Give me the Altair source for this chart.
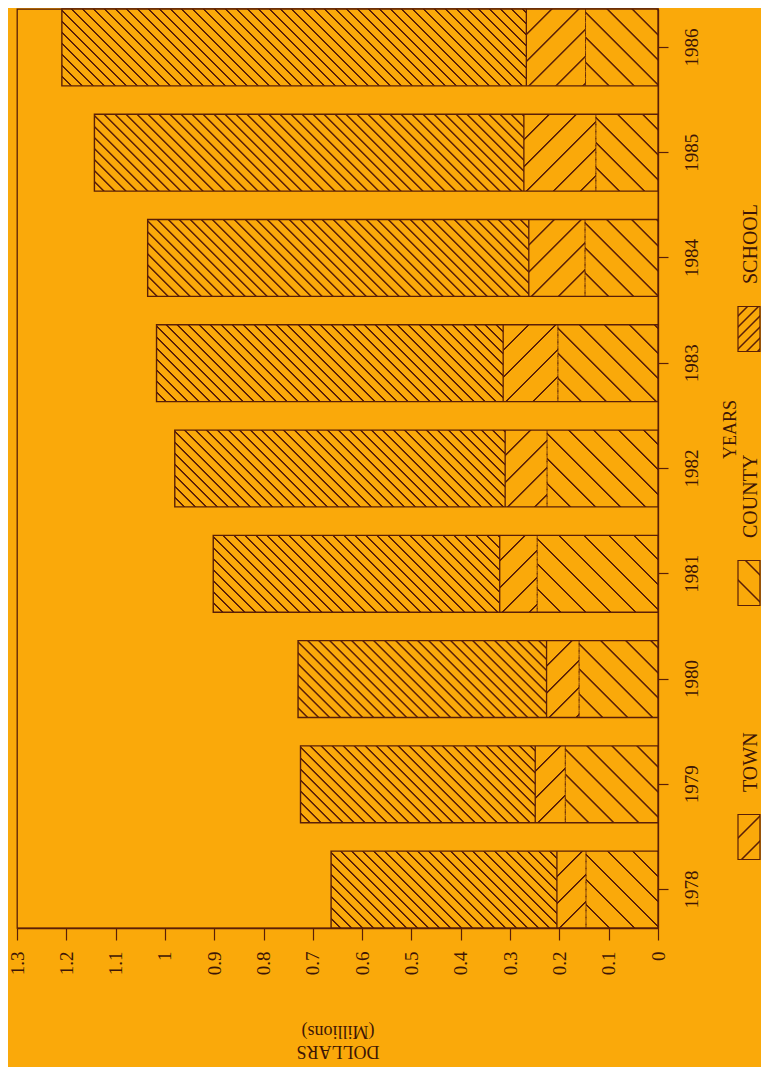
import altair as alt
import pandas as pd

# ---------------- data (millions of dollars) ----------------
years = ["1978", "1979", "1980", "1981", "1982", "1983", "1984", "1985", "1986"]
town = [0.146, 0.188, 0.160, 0.245, 0.225, 0.203, 0.148, 0.126, 0.147]
county = [0.059, 0.061, 0.066, 0.076, 0.085, 0.111, 0.114, 0.146, 0.120]
school = [0.458, 0.476, 0.504, 0.581, 0.670, 0.703, 0.773, 0.871, 0.942]
series_names = ["TOWN", "COUNTY", "SCHOOL"]
value_ticks = [0, 0.1, 0.2, 0.3, 0.4, 0.5, 0.6, 0.7, 0.8, 0.9, 1, 1.1, 1.2, 1.3]

# ---------------- style ----------------
BG = "#FAA90A"
INK = "#5A1F07"
TEXT = "#3E1606"
FONT = "Liberation Serif"

PLOT_W, PLOT_H = 641, 919
XMAX = 1.3
PAD_INNER = 0.27
PX_PER_UNIT = PLOT_W / XMAX
BAND = PLOT_H / (len(years) - PAD_INNER) * (1 - PAD_INNER)

rows = []
for i, yr in enumerate(years):
    for k, (name, vals) in enumerate(zip(series_names, [town, county, school])):
        rows.append({"year": yr, "series": name, "v": vals[i], "ord": k})
df = pd.DataFrame(rows)
legend_df = pd.DataFrame({"series": series_names})

# hatch: (horizontal spacing px, stripe count, solid-line fraction, ramp fraction, direction)
HATCH = {
    "TOWN": (25, 14, 0.05, 0.035, "back"),
    "COUNTY": (27, 12, 0.045, 0.033, "fwd"),
    "SCHOOL": (11, 64, 0.11, 0.08, "back"),
}


def stops_literal(n, f, r):
    parts = []
    for k in range(n):
        pts = [
            (k / n, BG),
            ((k + 1 - f - 2 * r) / n, BG),
            ((k + 1 - f - r) / n, INK),
            ((k + 1 - r) / n, INK),
            ((k + 1) / n, BG),
        ]
        for off, col in pts:
            parts.append(f"{{offset:{off:.5f},color:'{col}'}}")
    return "[" + ",".join(parts) + "]"


def grad(wx, hx, name, mirror=False):
    d, n, f, r, direction = HATCH[name]
    if mirror:
        direction = "fwd" if direction == "back" else "back"
    st = stops_literal(n, f, r)
    a = f"({n * d}/(({wx})*({wx})+({hx})*({hx})))"
    if direction == "back":
        return f"{{gradient:'linear',x1:0,y1:1,x2:{a}*({wx}),y2:1-{a}*({hx}),stops:{st}}}"
    return f"{{gradient:'linear',x1:0,y1:0,x2:{a}*({wx}),y2:{a}*({hx}),stops:{st}}}"


def grad_expr(wx, hx, mirror=False):
    return (
        f"datum.series === 'SCHOOL' ? ({grad(wx, hx, 'SCHOOL', mirror)}) : "
        f"(datum.series === 'COUNTY' ? ({grad(wx, hx, 'COUNTY', mirror)}) : "
        f"({grad(wx, hx, 'TOWN', mirror)}))"
    )


bar_expr = grad_expr(f"datum.v*{PX_PER_UNIT:.4f}", f"{BAND:.4f}")
SW_W, SW_H = 22, 45
leg_expr = grad_expr(f"{SW_W}", f"{SW_H}", mirror=True)

x_scale = alt.Scale(domain=[0, XMAX], reverse=True, nice=False, zero=True)
x_axis = alt.Axis(
    values=value_ticks, format="~g", labelAngle=270, labelAlign="right",
    labelBaseline="middle", tickSize=12, labelPadding=11, labelFontSize=19,
    labelOverlap=False, labelFlush=False,
    title=["DOLLARS", "(Millions)"], titleAngle=180, titleBaseline="bottom",
    titleFontSize=18, titleY=113,
)
y_axis = alt.Axis(
    orient="right", labelAngle=270, labelAlign="center", labelBaseline="top",
    tickSize=10, labelPadding=14, labelFontSize=19, title="YEARS",
    titleAngle=270, titleBaseline="top", titleFontSize=18, titlePadding=20,
    titleY=420,
)
y_enc = alt.Y("year:O", sort="descending",
              scale=alt.Scale(paddingInner=PAD_INNER, paddingOuter=0), axis=y_axis)

base = alt.Chart(df).transform_stack(
    stack="v", groupby=["year"], as_=["x0", "x1"],
    sort=[alt.SortField("ord", order="ascending")],
)

fills = base.transform_calculate(grad=bar_expr).mark_bar().encode(
    x=alt.X("x0:Q", scale=x_scale, axis=x_axis),
    x2="x1:Q",
    y=y_enc,
    fill=alt.Fill("grad:N", scale=None),
)

town_edge = base.transform_filter("datum.series === 'TOWN'").mark_bar(
    fillOpacity=0, stroke=INK, strokeWidth=1, strokeDash=[4, 3], strokeOpacity=0.8
).encode(x=alt.X("x1:Q", scale=x_scale, axis=x_axis), x2="x1:Q", y=y_enc)

county_edge = base.transform_filter("datum.series === 'COUNTY'").mark_bar(
    fillOpacity=0, stroke=INK, strokeWidth=1.3
).encode(x=alt.X("x1:Q", scale=x_scale, axis=x_axis), x2="x1:Q", y=y_enc)

outline = alt.Chart(df).transform_aggregate(
    total="sum(v)", groupby=["year"]
).mark_bar(fillOpacity=0, stroke=INK, strokeWidth=1.4).encode(
    x=alt.X("total:Q", scale=x_scale, axis=x_axis),
    y=y_enc,
)

main = alt.layer(fills, town_edge, county_edge, outline)

leg_y = alt.Y("series:N", scale=alt.Scale(type="point", domain=["SCHOOL", "COUNTY", "TOWN"],
                                          range=[320, 828], padding=0), axis=None)
SWATCH_PATH = "M-0.4889,-1L0.4889,-1L0.4889,1L-0.4889,1Z"
legend_base = alt.Chart(legend_df).transform_calculate(grad=leg_expr)
swatch = legend_base.mark_point(
    shape=SWATCH_PATH, size=SW_H * SW_H, filled=True, opacity=1,
    stroke=INK, strokeWidth=1.2,
).encode(x=alt.value(732), y=leg_y, fill=alt.Fill("grad:N", scale=None))
labels = legend_base.mark_text(
    angle=270, align="left", baseline="middle", dx=45,
    font=FONT, fontSize=20, color=TEXT,
).encode(x=alt.value(734), y=leg_y, text="series:N")
legend = alt.layer(swatch, labels)

chart = alt.layer(main, legend).resolve_scale(y="independent").properties(
    width=PLOT_W, height=PLOT_H,
    autosize=alt.AutoSizeParams(type="none"),
    padding={"left": 9, "top": 1, "right": 103, "bottom": 139},
).configure(background=BG, font=FONT).configure_view(
    stroke=INK, strokeWidth=1.3
).configure_axis(
    domainColor=INK, tickColor=INK, labelColor=TEXT, titleColor=TEXT,
    labelFont=FONT, titleFont=FONT, grid=False, domainWidth=1.3, tickWidth=1.2,
    titleFontWeight="normal",
)

chart.save("out.html", embed_options={"renderer": "svg", "actions": False})
